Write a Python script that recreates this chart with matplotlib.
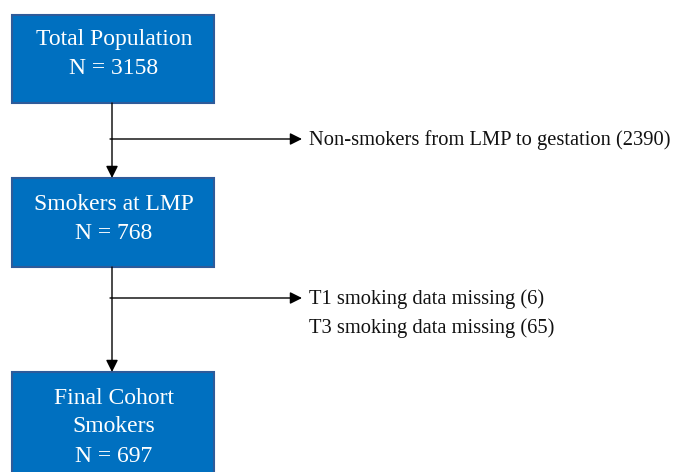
import matplotlib.pyplot as plt
from matplotlib.patches import Rectangle

# flow data
box_titles = ["Total Population", "Smokers at LMP", "Final Cohort\nSmokers"]
box_counts = [3158, 768, 697]
excl_labels = [["Non-smokers from LMP to gestation"],
               ["T1 smoking data missing", "T3 smoking data missing"]]
excl_counts = [[2390], [6, 65]]

# layout (pixel coords, y down)
BOX_X0, BOX_X1 = 12, 214
box_tops = [15, 178, 372]
box_bottoms = [103, 267, 480]
text_centers = [54, 219, 427]
LINE_X = 112
branch_y = [139, 298]
TIP_X = 302
TEXT_X = 309
LINE_GAP = 29
BLUE = "#0070C0"
EDGE = "#2E5B9A"

plt.rcParams['font.family'] = ['Liberation Serif', 'DejaVu Serif']

fig = plt.figure(figsize=(6.81, 4.72), dpi=100)
ax = fig.add_axes([0, 0, 1, 1])
ax.set_xlim(0, 681)
ax.set_ylim(472, 0)
ax.axis('off')

for i, (title, n) in enumerate(zip(box_titles, box_counts)):
    ax.add_patch(Rectangle((BOX_X0, box_tops[i]), BOX_X1 - BOX_X0,
                           box_bottoms[i] - box_tops[i],
                           facecolor=BLUE, edgecolor=EDGE, lw=1.5, zorder=2))
    ax.text((BOX_X0 + BOX_X1) / 2 + 1, text_centers[i], f"{title}\nN = {n}",
            ha='center', va='center', color='white', fontsize=17,
            linespacing=1.5, zorder=3)

# vertical arrows between boxes
for i in range(len(box_titles) - 1):
    ax.annotate("", xy=(LINE_X, box_tops[i + 1]), xytext=(LINE_X, box_bottoms[i]),
                arrowprops=dict(arrowstyle="-|>", color='black', lw=1,
                                mutation_scale=18, shrinkA=0, shrinkB=0))

# exclusion branches
for j, (labels, counts) in enumerate(zip(excl_labels, excl_counts)):
    y = branch_y[j]
    ax.annotate("", xy=(TIP_X, y), xytext=(LINE_X - 2, y),
                arrowprops=dict(arrowstyle="-|>", color='black', lw=1,
                                mutation_scale=18, shrinkA=0, shrinkB=0))
    for k, (lab, c) in enumerate(zip(labels, counts)):
        ax.text(TEXT_X, y + 1 + k * LINE_GAP, f"{lab} ({c})", ha='left',
                va='center', fontsize=14.8, color='#111111')

fig.savefig("out.png", dpi=100)
